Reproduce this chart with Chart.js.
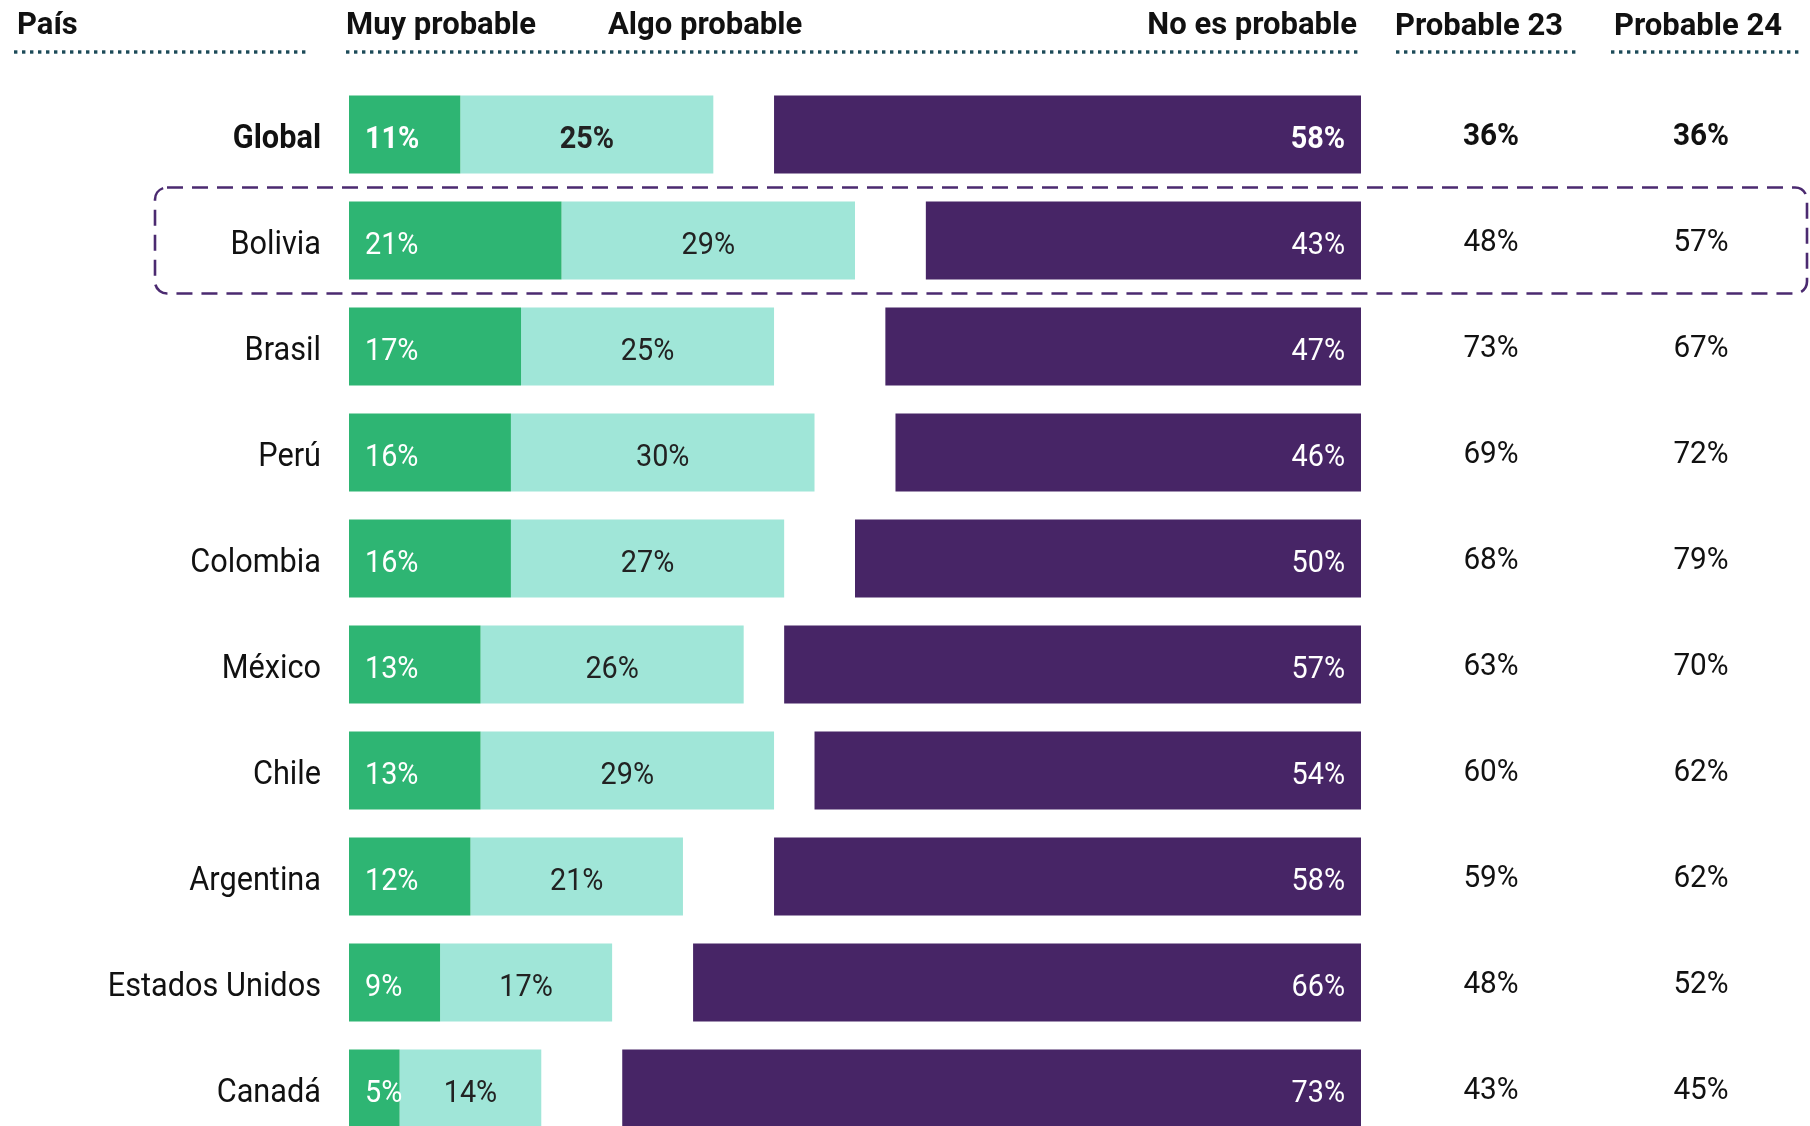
<!DOCTYPE html>
<html lang="es">
<head>
<meta charset="utf-8">
<title>Probabilidad por país</title>
<script src="https://cdn.jsdelivr.net/npm/chart.js@4/dist/chart.umd.min.js"></script>
<style>
  html, body { margin: 0; padding: 0; background: #ffffff; overflow: hidden; width: 1810px; height: 1126px; }
  #wrap { position: relative; width: 1810px; height: 1160px; }
</style>
</head>
<body>
<div id="wrap"><canvas id="chart" width="1810" height="1160"></canvas></div>
<script>
// Rows and values
const countries = ['Global', 'Bolivia', 'Brasil', 'Perú', 'Colombia', 'México', 'Chile', 'Argentina', 'Estados Unidos', 'Canadá'];
const muyProbable  = [11, 21, 17, 16, 16, 13, 13, 12, 9, 5];
const algoProbable = [25, 29, 25, 30, 27, 26, 29, 21, 17, 14];
const noProbable   = [58, 43, 47, 46, 50, 57, 54, 58, 66, 73];
const probable23   = [36, 48, 73, 69, 68, 63, 60, 59, 48, 43];
const probable24   = [36, 57, 67, 72, 79, 70, 62, 62, 52, 45];

// Column headings
const headPais = 'País';
const headMuy = 'Muy probable';
const headAlgo = 'Algo probable';
const headNo = 'No es probable';
const headP23 = 'Probable 23';
const headP24 = 'Probable 24';

const highlightRow = 'Bolivia';

const GREEN = '#2eb573';
const TEAL = '#a0e6d8';
const PURPLE = '#472566';
const DOT = '#1c4a58';
const FONT = 'Roboto, "Noto Sans", sans-serif';

function drawText(ctx, s, x, y, o) {
  ctx.save();
  ctx.font = `${o.weight || 400} ${o.size}px ${FONT}`;
  ctx.fillStyle = o.color || '#111111';
  ctx.textBaseline = 'alphabetic';
  ctx.textAlign = o.align || 'left';
  ctx.translate(x, y);
  ctx.scale(o.sx || 1, 1);
  ctx.fillText(s, 0, 0);
  ctx.restore();
}

function dottedLine(ctx, x0, x1, y) {
  ctx.save();
  ctx.fillStyle = DOT;
  for (let x = x0; x <= x1 - 3; x += 8) ctx.fillRect(x, y - 1.7, 3.4, 3.4);
  ctx.restore();
}

const overlay = {
  id: 'overlay',
  afterDatasetsDraw(chart) {
    const ctx = chart.ctx;
    const y = chart.scales.y;
    const area = chart.chartArea;
    const mMuy = chart.getDatasetMeta(0);
    const mAlgo = chart.getDatasetMeta(1);
    const mNo = chart.getDatasetMeta(2);

    // headings
    const head = { size: 31, weight: 700, color: '#111' };
    drawText(ctx, headPais, 17, 34, head);
    drawText(ctx, headMuy, 346, 34, head);
    drawText(ctx, headAlgo, 608, 34, head);
    drawText(ctx, headNo, 1357, 34, { ...head, align: 'right' });
    drawText(ctx, headP23, 1479, 35, { ...head, align: 'center' });
    drawText(ctx, headP24, 1698, 35, { ...head, align: 'center' });
    dottedLine(ctx, 14, 312, 52);
    dottedLine(ctx, 346, 1359, 52);
    dottedLine(ctx, 1396, 1580, 52);
    dottedLine(ctx, 1611, 1800, 52);

    countries.forEach((name, i) => {
      const cy = y.getPixelForValue(i);
      const bold = i === 0 ? 700 : 400;
      const base = { size: 32, weight: bold, sx: 0.9 };

      drawText(ctx, name, area.left - 28, cy + 13, { size: 33, weight: bold, sx: 0.93, color: '#111', align: 'right' });

      const g = mMuy.data[i], a = mAlgo.data[i], n = mNo.data[i];
      drawText(ctx, muyProbable[i] + '%', g.base + 16, cy + 13, { ...base, color: '#ffffff', align: 'left' });
      drawText(ctx, algoProbable[i] + '%', (a.base + a.x) / 2, cy + 13, { ...base, color: '#222222', align: 'center' });
      drawText(ctx, noProbable[i] + '%', n.base - 16, cy + 13, { ...base, color: '#ffffff', align: 'right' });

      drawText(ctx, probable23[i] + '%', 1491, cy + 10, { ...base, sx: 0.93, color: '#111111', align: 'center' });
      drawText(ctx, probable24[i] + '%', 1701, cy + 10, { ...base, sx: 0.93, color: '#111111', align: 'center' });
    });

    // dashed frame around the highlighted row
    const hi = countries.indexOf(highlightRow);
    const hy = y.getPixelForValue(hi);
    ctx.save();
    ctx.strokeStyle = '#4b2a70';
    ctx.lineWidth = 2.6;
    ctx.setLineDash([16, 9]);
    ctx.beginPath();
    ctx.roundRect(155, hy - 53, 1807 - 155, 106, 12);
    ctx.stroke();
    ctx.restore();
  }
};

new Chart(document.getElementById('chart'), {
  type: 'bar',
  data: {
    labels: countries,
    datasets: [
      { label: headMuy, data: muyProbable, backgroundColor: GREEN, xAxisID: 'x', stack: 'row' },
      { label: headAlgo, data: algoProbable, backgroundColor: TEAL, xAxisID: 'x', stack: 'row' },
      { label: headNo, data: noProbable, backgroundColor: PURPLE, xAxisID: 'xR', stack: 'row' }
    ]
  },
  options: {
    indexAxis: 'y',
    responsive: false,
    devicePixelRatio: 1,
    animation: false,
    categoryPercentage: 1,
    barPercentage: 0.736,
    layout: { padding: { left: 349, right: 449, top: 81.5, bottom: 18.5 } },
    plugins: { legend: { display: false }, tooltip: { enabled: false } },
    scales: {
      x: { type: 'linear', min: 0, max: 100, stacked: true, display: false },
      xR: { type: 'linear', min: 0, max: 100, reverse: true, stacked: true, display: false },
      y: { type: 'category', stacked: true, display: false, grid: { display: false } }
    }
  },
  plugins: [overlay]
});
</script>
</body>
</html>
